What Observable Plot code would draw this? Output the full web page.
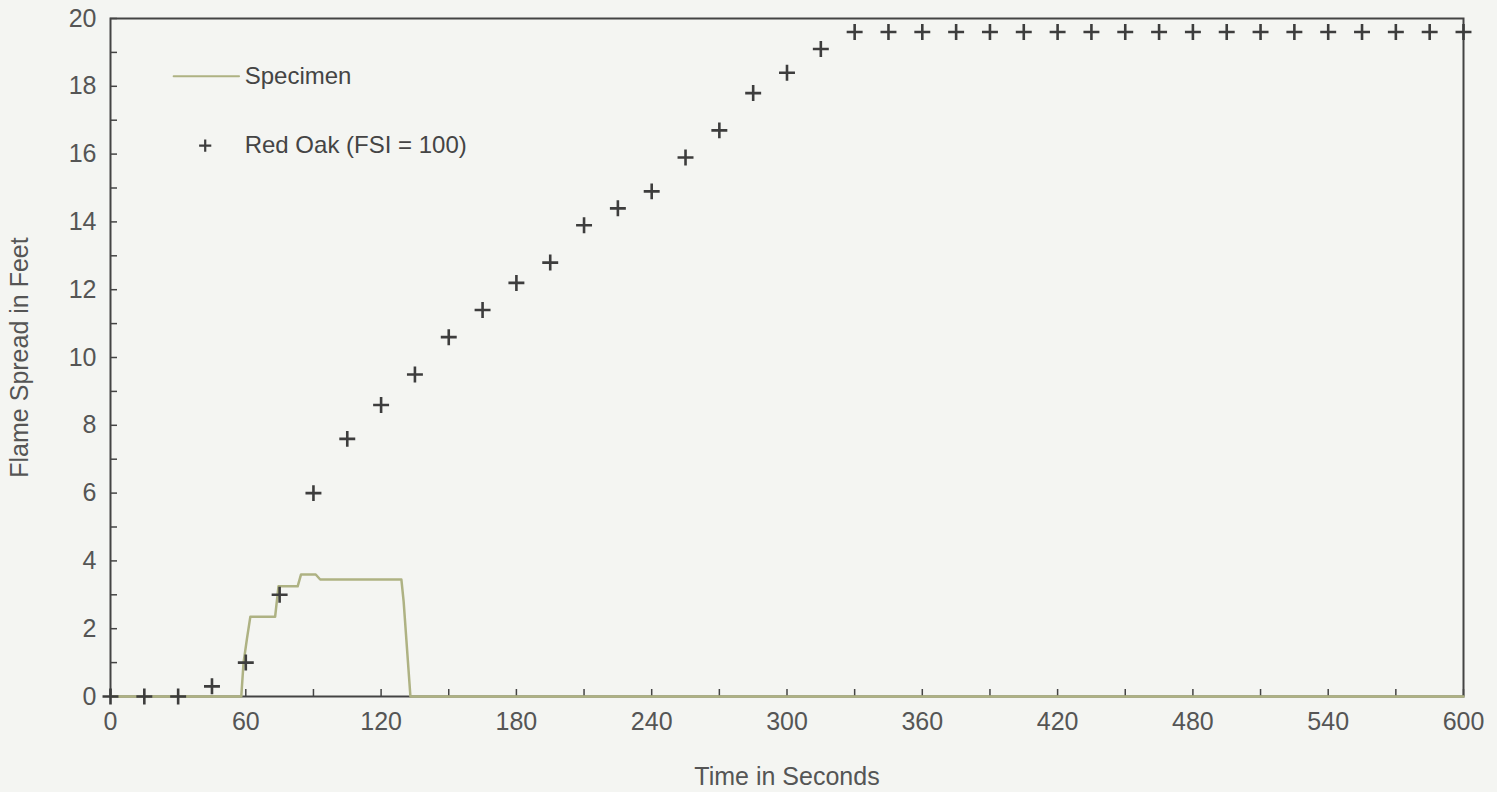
<!DOCTYPE html>
<html>
<head>
<meta charset="utf-8">
<script src="https://cdn.jsdelivr.net/npm/d3@7"></script>
<script src="https://cdn.jsdelivr.net/npm/@observablehq/plot@0.6"></script>
<style>
  html, body { margin: 0; padding: 0; background: #f4f5f2; }
  #chart { position: relative; width: 1497px; height: 792px; }
  svg { font-family: Arial, "Liberation Sans", sans-serif; }
</style>
</head>
<body>
<div id="chart"></div>
<script>
// Red Oak (FSI = 100) reference points, every 15 s
const oakTime = [0,15,30,45,60,75,90,105,120,135,150,165,180,195,210,225,240,255,270,285,300,315,
  330,345,360,375,390,405,420,435,450,465,480,495,510,525,540,555,570,585,600];
const oakFeet = [0,0,0,0.3,1.0,3.0,6.0,7.6,8.6,9.5,10.6,11.4,12.2,12.8,13.9,14.4,14.9,15.9,16.7,17.8,18.4,19.1,
  19.6,19.6,19.6,19.6,19.6,19.6,19.6,19.6,19.6,19.6,19.6,19.6,19.6,19.6,19.6,19.6,19.6,19.6,19.6];

// Specimen flame spread trace
const specTime = [0,58,59,60.5,62,73,74.5,83,84.5,91,93,129,130,133,600];
const specFeet = [0,0,1.0,1.7,2.35,2.35,3.25,3.25,3.6,3.6,3.45,3.45,2.8,0,0];

const xTicks = d3.range(0, 601, 60);
const xMinor = d3.range(0, 601, 30);
const yTicks = d3.range(0, 21, 2);
const yMinor = d3.range(0, 21, 1);

const oak = oakTime.map((t, i) => ({t, v: oakFeet[i]}));
const spec = specTime.map((t, i) => ({t, v: specFeet[i]}));

const textColor = "#555";
const plot = Plot.plot({
  width: 1497,
  height: 792,
  marginLeft: 110,
  marginRight: 34,
  marginTop: 18,
  marginBottom: 96,
  style: {background: "transparent", fontSize: "25px", color: textColor},
  x: {domain: [0, 600]},
  y: {domain: [0, 20]},
  marks: [
    Plot.frame({stroke: "#444", strokeWidth: 2}),
    // inward minor ticks
    Plot.axisX({ticks: xMinor, tickSize: -7, tickFormat: () => "", label: null, stroke: "#444", strokeWidth: 1.5}),
    Plot.axisY({ticks: yMinor, tickSize: -7, tickFormat: () => "", label: null, stroke: "#444", strokeWidth: 1.5}),
    // labels
    Plot.axisX({ticks: xTicks, tickSize: 0, tickPadding: 16, label: "Time in Seconds", labelAnchor: "center",
      labelArrow: "none", labelOffset: 88, fontSize: 25, fill: textColor}),
    Plot.axisY({ticks: yTicks, tickSize: 0, tickPadding: 14, label: "Flame Spread in Feet", labelAnchor: "center",
      labelOffset: 100, labelArrow: "none", fontSize: 25, fill: textColor}),
    Plot.line(spec, {x: "t", y: "v", stroke: "#aeb283", strokeWidth: 2.5}),
    Plot.dot(oak, {x: "t", y: "v", symbol: "plus", r: 5.2, stroke: "#3d3d3d", strokeWidth: 2.6}),
    // legend
    Plot.line([0, 1], {x: (d) => 28 + d * 29, y: () => 18.3, stroke: "#aeb283", strokeWidth: 2}),
    Plot.text(["Specimen"], {x: () => 59.5, y: () => 18.3, textAnchor: "start", fontSize: 24, fill: "#444"}),
    Plot.dot([0], {x: () => 42, y: () => 16.25, symbol: "plus", r: 4, stroke: "#3d3d3d", strokeWidth: 2.2}),
    Plot.text(["Red Oak (FSI = 100)"], {x: () => 59.5, y: () => 16.25, textAnchor: "start", fontSize: 24, fill: "#444"})
  ]
});
document.getElementById("chart").appendChild(plot);
</script>
</body>
</html>
